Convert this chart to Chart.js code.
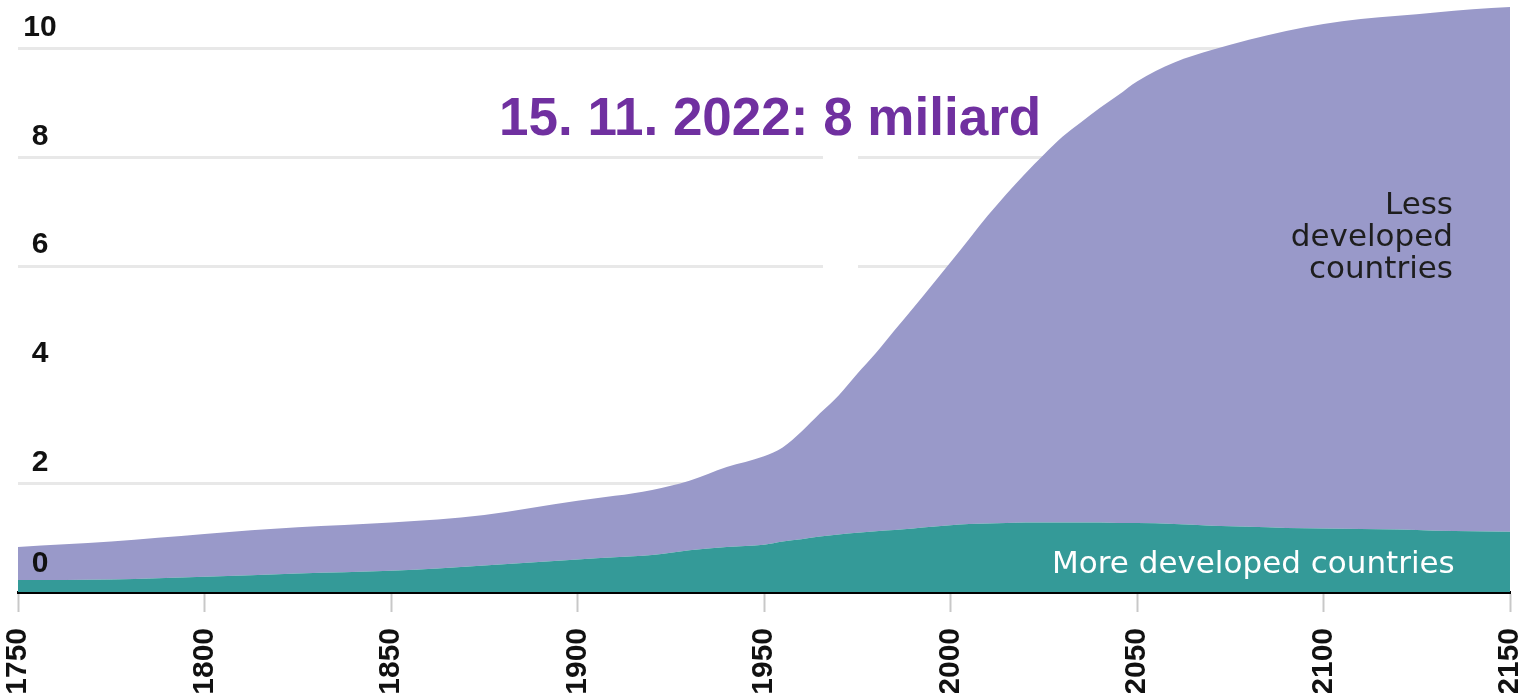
<!DOCTYPE html>
<html>
<head>
<meta charset="utf-8">
<script src="https://cdn.jsdelivr.net/npm/chart.js"></script>
<style>
  html, body { margin: 0; padding: 0; background: #fff; overflow: hidden; }
  #wrap { position: relative; width: 1532px; height: 693px; }
</style>
</head>
<body>
<div id="wrap"><canvas id="popChart"></canvas></div>
<script>
// world population in billions
const years = [1750, 1775, 1800, 1825, 1850, 1875, 1900, 1910, 1920, 1930, 1940, 1950,
  1955, 1960, 1965, 1970, 1975, 1980, 1985, 1990, 1995, 2000, 2005, 2010, 2015, 2020,
  2025, 2030, 2035, 2040, 2045, 2050, 2060, 2070, 2080, 2090, 2100, 2110, 2120, 2130,
  2140, 2150];
const moreDeveloped = [0.22, 0.23, 0.28, 0.34, 0.39, 0.49, 0.60, 0.64, 0.68, 0.77, 0.83, 0.87,
  0.93, 0.97, 1.02, 1.06, 1.09, 1.12, 1.14, 1.17, 1.20, 1.23, 1.25, 1.26, 1.27, 1.28,
  1.28, 1.28, 1.28, 1.28, 1.27, 1.27, 1.25, 1.22, 1.20, 1.18, 1.17, 1.16, 1.15, 1.13,
  1.12, 1.11];
const lessDeveloped = [0.61, 0.70, 0.79, 0.85, 0.89, 0.93, 1.08, 1.13, 1.20, 1.28, 1.47, 1.63,
  1.73, 1.98, 2.27, 2.56, 2.93, 3.28, 3.68, 4.06, 4.45, 4.84, 5.25, 5.67, 6.06, 6.42,
  6.77, 7.10, 7.37, 7.63, 7.88, 8.13, 8.50, 8.76, 8.97, 9.15, 9.29, 9.39, 9.46, 9.54,
  9.61, 9.66];
const xTicks = [1750, 1800, 1850, 1900, 1950, 2000, 2050, 2100, 2150];
const yTicks = [0, 2, 4, 6, 8, 10];
const headline = "15. 11. 2022: 8 miliard";
const lessLabel = ["Less", "developed", "countries"];
const moreLabel = "More developed countries";

const tickFont = "bold 30px 'Liberation Sans', Arial, sans-serif";

const toPoints = (arr) => arr.map((v, i) => ({ x: years[i], y: v }));

// y labels sit above their grid lines, plus the headline and area captions
const textLayer = {
  id: "textLayer",
  beforeDatasetsDraw(chart) {
    const ctx = chart.ctx;
    ctx.save();
    ctx.fillStyle = "#ffffff";
    ctx.fillRect(823, 140, 35, 140); // gap in the grid lines
    ctx.restore();
  },
  afterDatasetsDraw(chart) {
    const ctx = chart.ctx;
    const y = chart.scales.y;
    ctx.save();
    ctx.font = tickFont;
    ctx.fillStyle = "#111111";
    ctx.textAlign = "center";
    ctx.textBaseline = "middle";
    for (const v of yTicks) {
      const off = v === 0 ? 28 : 21;
      ctx.fillText(String(v), 40, y.getPixelForValue(v) - off);
    }

    ctx.font = "bold 53px 'Liberation Sans', Arial, sans-serif";
    ctx.fillStyle = "#7030a0";
    ctx.textAlign = "left";
    ctx.textBaseline = "alphabetic";
    ctx.fillText(headline, 499, 135);

    ctx.font = "31px 'DejaVu Sans', sans-serif";
    ctx.fillStyle = "#1e1e1e";
    ctx.textAlign = "right";
    lessLabel.forEach((line, i) => {
      ctx.fillText(line, 1453, 214 + i * 32);
    });

    ctx.fillStyle = "#ffffff";
    ctx.textAlign = "left";
    ctx.fillText(moreLabel, 1052, 573);
    ctx.restore();
  },
};

new Chart("popChart", {
  type: "line",
  data: {
    datasets: [
      {
        label: "More developed countries",
        data: toPoints(moreDeveloped),
        backgroundColor: "#349a98",
        borderWidth: 0,
        pointRadius: 0,
        fill: "origin",
      },
      {
        label: "Less developed countries",
        data: toPoints(lessDeveloped),
        backgroundColor: "#9999c9",
        borderWidth: 0,
        pointRadius: 0,
        fill: "-1",
      },
    ],
  },
  options: {
    responsive: true,
    maintainAspectRatio: false,
    animation: false,
    devicePixelRatio: 1,
    layout: { padding: { left: 18, right: 22, top: 0, bottom: 0 } },
    elements: { line: { cubicInterpolationMode: "monotone" } },
    plugins: {
      legend: { display: false },
      tooltip: { enabled: false },
    },
    scales: {
      x: {
        type: "linear",
        min: 1750,
        max: 2150,
        afterBuildTicks: (axis) => {
          axis.ticks = xTicks.map((v) => ({ value: v }));
        },
        afterFit: (axis) => {
          axis.height = 101;
          axis.paddingLeft = 0;
          axis.paddingRight = 0;
        },
        ticks: {
          callback: (v) => String(v),
          minRotation: 90,
          maxRotation: 90,
          padding: 16,
          color: "#111111",
          font: { family: "'Liberation Sans', Arial, sans-serif", size: 30, weight: "bold" },
        },
        grid: {
          drawOnChartArea: false,
          drawTicks: true,
          tickLength: 20,
          tickColor: "#c8c8c8",
          tickWidth: 2,
        },
        border: { display: true, color: "#000000", width: 3 },
      },
      y: {
        stacked: true,
        min: 0,
        max: 10.9,
        afterBuildTicks: (axis) => {
          axis.ticks = yTicks.map((v) => ({ value: v }));
        },
        ticks: { display: false },
        grid: {
          drawTicks: false,
          lineWidth: 3,
          color: (c) => (c.tick && (c.tick.value === 0 || c.tick.value === 4) ? "rgba(0,0,0,0)" : "#e8e8e8"),
        },
        border: { display: false },
      },
    },
  },
  plugins: [textLayer],
});
</script>
</body>
</html>
